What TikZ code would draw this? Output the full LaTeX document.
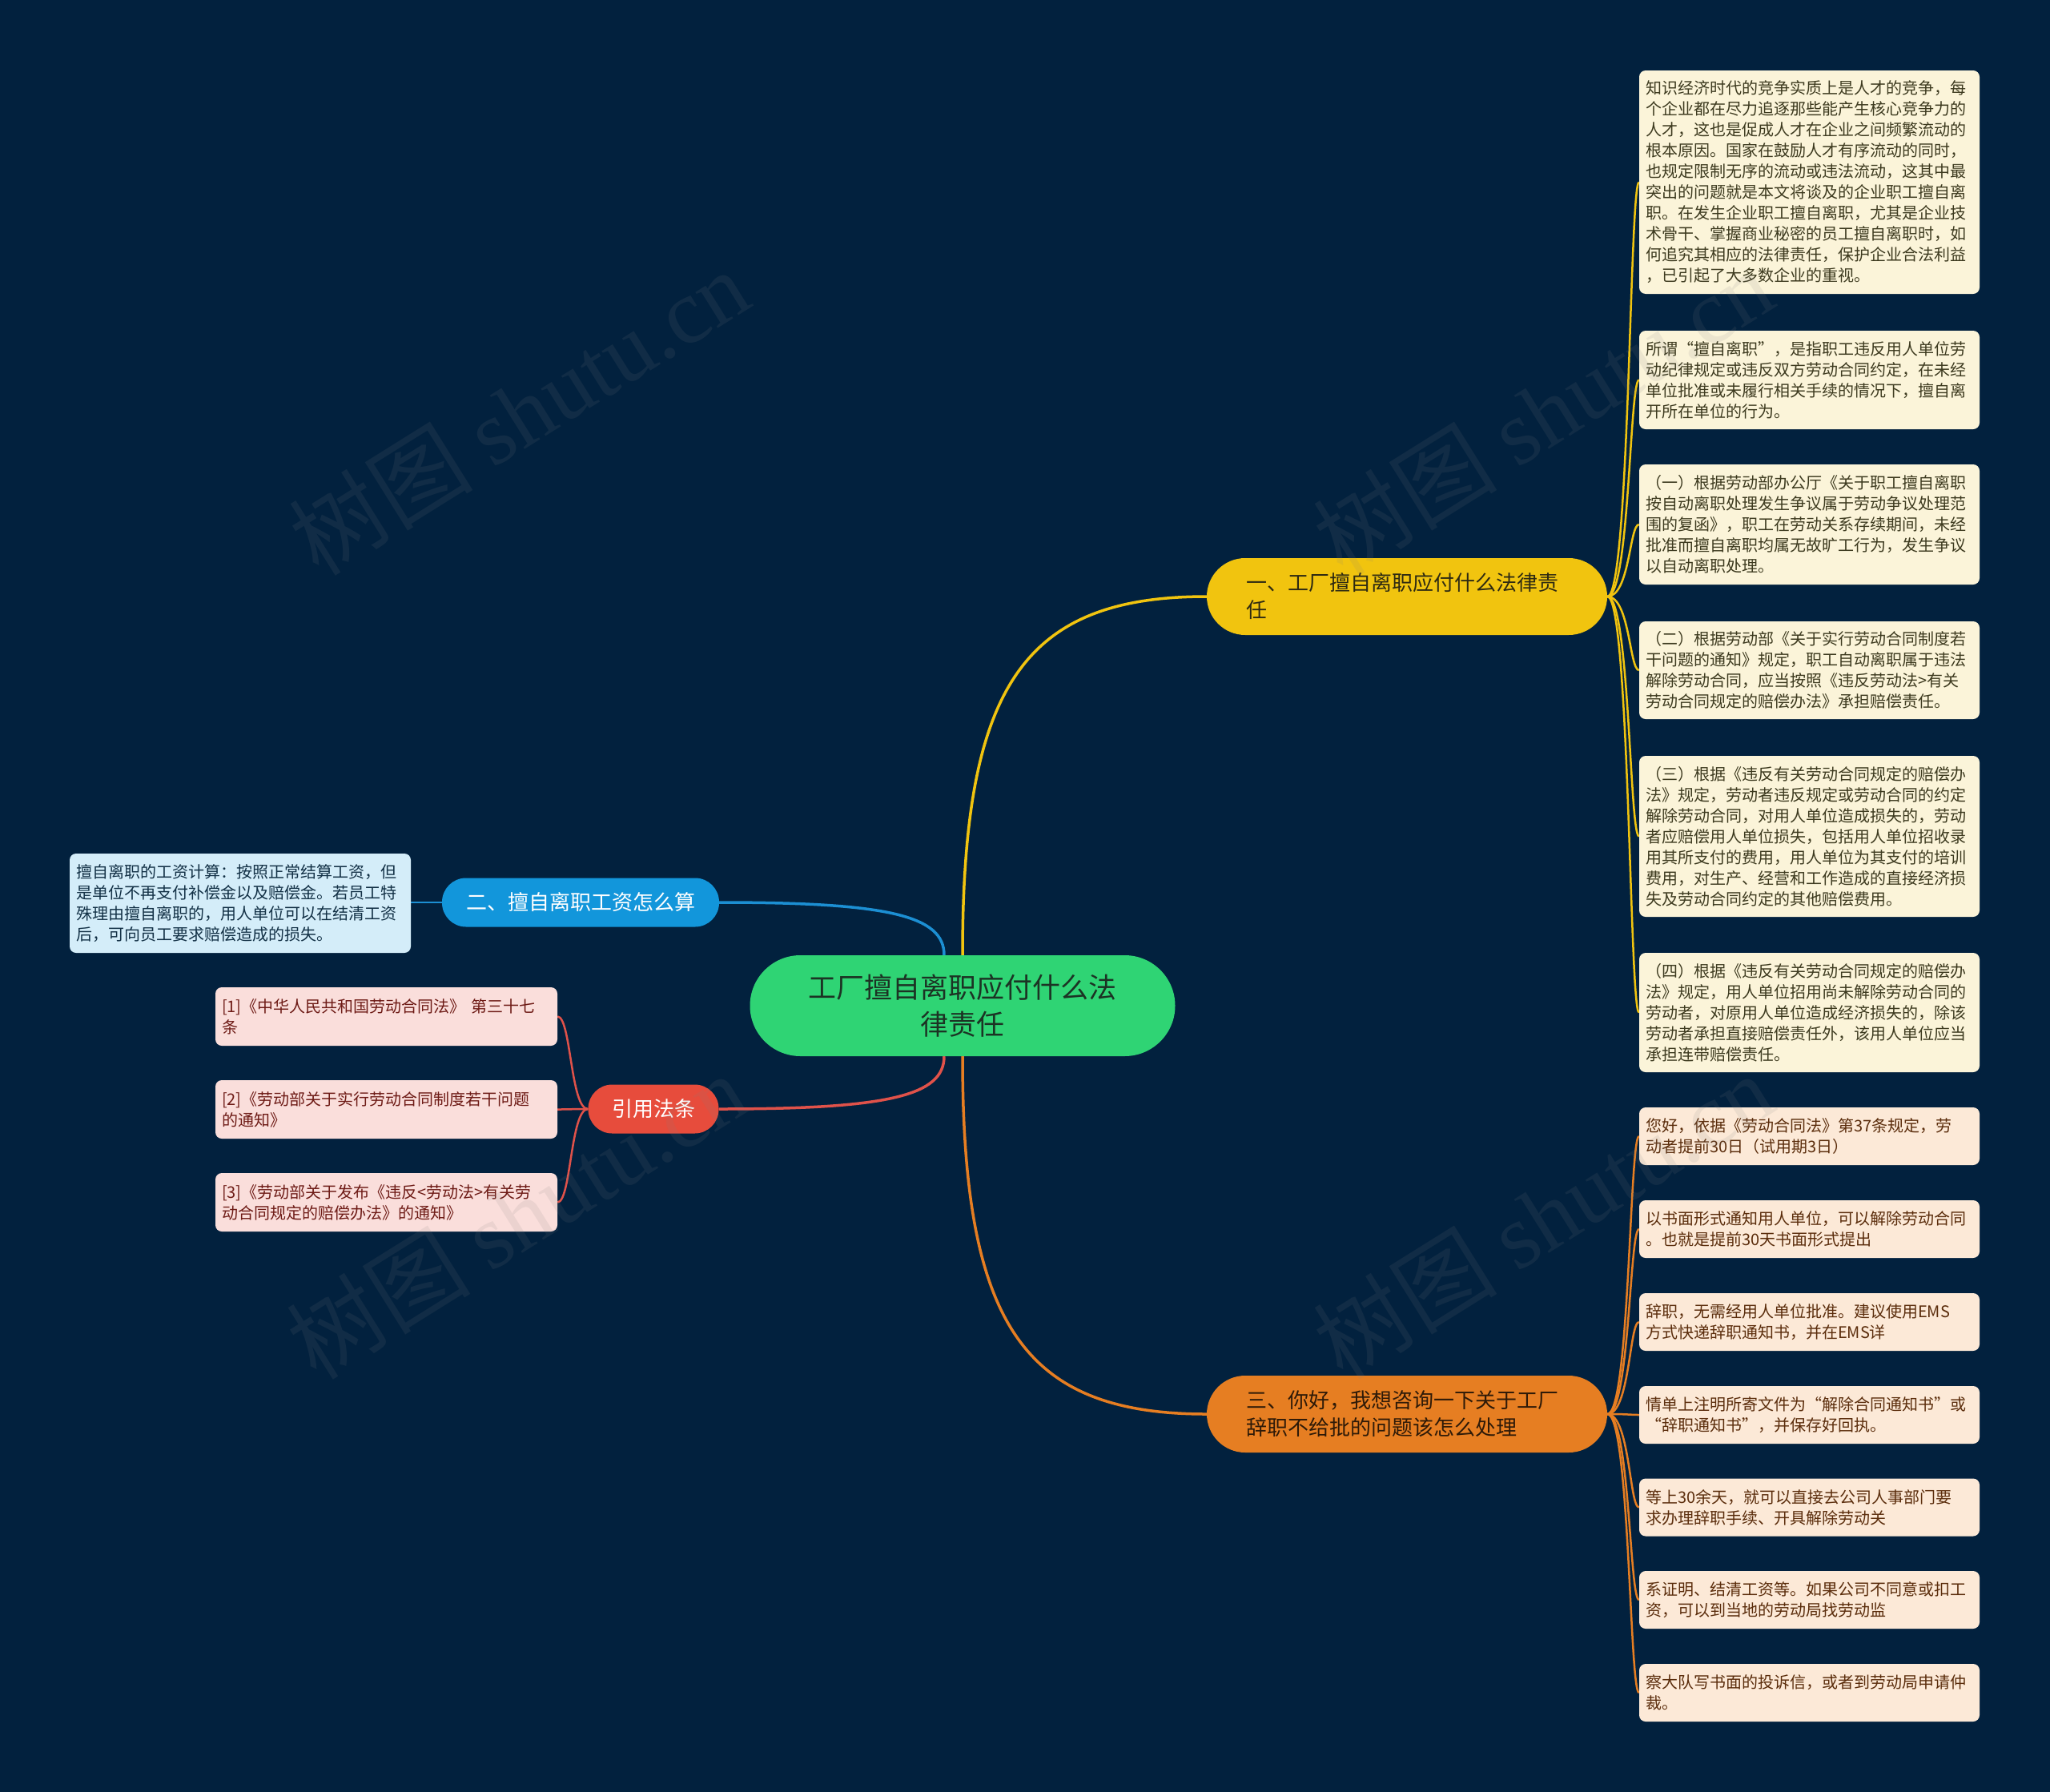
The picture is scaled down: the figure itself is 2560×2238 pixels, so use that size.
\documentclass[tikz,border=0pt]{standalone}
\usepackage{fontspec}
\setmainfont{Noto Sans CJK SC}
\newfontfamily\wmserif{Liberation Serif}
\usetikzlibrary{calc}
\definecolor{bgc}{HTML}{02213E}
\definecolor{rootc}{HTML}{2FD474}
\definecolor{roottxt}{HTML}{1C3324}
\definecolor{ylw}{HTML}{F1C40F}
\definecolor{ytxt}{HTML}{2E2A12}
\definecolor{org}{HTML}{E67E22}
\definecolor{otxt}{HTML}{2E1A08}
\definecolor{blu}{HTML}{1296DB}
\definecolor{bluline}{HTML}{1C8FD3}
\definecolor{rd}{HTML}{E74C3C}
\definecolor{redline}{HTML}{E0524A}
\definecolor{yleaf}{HTML}{FBF4D9}
\definecolor{yleaftxt}{HTML}{3D3A1F}
\definecolor{oleaf}{HTML}{FCE9D7}
\definecolor{oleaftxt}{HTML}{5B2D0C}
\definecolor{bleaf}{HTML}{D4EDF9}
\definecolor{bleaftxt}{HTML}{123045}
\definecolor{rleaf}{HTML}{FADEDB}
\definecolor{rleaftxt}{HTML}{6E1B16}
\pgfdeclarelayer{bglayer}
\pgfsetlayers{bglayer,main}
\begin{document}
\begin{tikzpicture}[x=1pt,y=-1pt,
  rootnode/.style={fill=rootc, text=roottxt, rounded corners=63pt, minimum width=531pt, minimum height=126pt, align=center, inner sep=0pt, font=\fontsize{35}{46}\selectfont},
  branchY/.style={fill=ylw, text=ytxt, rounded corners=48pt, minimum height=96pt, text width=402pt, inner xsep=49pt, inner ysep=0pt, align=left, font=\fontsize{26}{34}\selectfont},
  branchO/.style={branchY, fill=org, text=otxt},
  branchB/.style={fill=blu, text=white, rounded corners=30pt, minimum width=346pt, minimum height=61pt, inner sep=0pt, font=\fontsize{26}{34}\selectfont},
  branchR/.style={fill=rd, text=white, rounded corners=30pt, minimum width=163pt, minimum height=61pt, inner sep=0pt, font=\fontsize{26}{34}\selectfont},
  leaf/.style={rounded corners=8pt, inner xsep=8pt, inner ysep=0pt, align=left, font=\fontsize{20}{26}\selectfont},
  leafY/.style={leaf, fill=yleaf, text=yleaftxt, text width=409pt},
  leafO/.style={leaf, fill=oleaf, text=oleaftxt, text width=409pt},
  leafB/.style={leaf, fill=bleaf, text=bleaftxt, text width=410pt},
  leafR/.style={leaf, fill=rleaf, text=rleaftxt, text width=411pt},
  mainline/.style={line width=3.5pt},
  subline/.style={line width=2.5pt},
  wm/.style={text=gray, text opacity=0.12, rotate=32, inner sep=0pt, font=\fontsize{115}{115}\selectfont}
]
\begin{pgfonlayer}{bglayer}
\fill[bgc] (0,0) rectangle (2560,2238);
\end{pgfonlayer}
\useasboundingbox (0,0) rectangle (2560,2238);

% main nodes
\node[rootnode] (c) at (1202,1256) {工厂擅自离职应付什么法\\律责任};
\node[branchY] (y1) at (1757,745) {一、工厂擅自离职应付什么法律责\\任};
\node[branchO] (o1) at (1757,1766) {三、你好，我想咨询一下关于工厂\\辞职不给批的问题该怎么处理};
\node[branchB] (b1) at (725,1127) {二、擅自离职工资怎么算};
\node[branchR] (r1) at (816,1385) {引用法条};

% yellow leaves
\node[leafY, minimum height=279pt] (yd1) at (2259.5,227.5) {知识经济时代的竞争实质上是人才的竞争，每\\个企业都在尽力追逐那些能产生核心竞争力的\\人才，这也是促成人才在企业之间频繁流动的\\根本原因。国家在鼓励人才有序流动的同时，\\也规定限制无序的流动或违法流动，这其中最\\突出的问题就是本文将谈及的企业职工擅自离\\职。在发生企业职工擅自离职，尤其是企业技\\术骨干、掌握商业秘密的员工擅自离职时，如\\何追究其相应的法律责任，保护企业合法利益\\，已引起了大多数企业的重视。};
\node[leafY, minimum height=123pt] (yd2) at (2259.5,474.5) {所谓“擅自离职”，是指职工违反用人单位劳\\动纪律规定或违反双方劳动合同约定，在未经\\单位批准或未履行相关手续的情况下，擅自离\\开所在单位的行为。};
\node[leafY, minimum height=150pt] (yd3) at (2259.5,655) {（一）根据劳动部办公厅《关于职工擅自离职\\按自动离职处理发生争议属于劳动争议处理范\\围的复函》，职工在劳动关系存续期间，未经\\批准而擅自离职均属无故旷工行为，发生争议\\以自动离职处理。};
\node[leafY, minimum height=122pt] (yd4) at (2259.5,837) {（二）根据劳动部《关于实行劳动合同制度若\\干问题的通知》规定，职工自动离职属于违法\\解除劳动合同，应当按照《违反劳动法>有关\\劳动合同规定的赔偿办法》承担赔偿责任。};
\node[leafY, minimum height=201pt] (yd5) at (2259.5,1044.5) {（三）根据《违反有关劳动合同规定的赔偿办\\法》规定，劳动者违反规定或劳动合同的约定\\解除劳动合同，对用人单位造成损失的，劳动\\者应赔偿用人单位损失，包括用人单位招收录\\用其所支付的费用，用人单位为其支付的培训\\费用，对生产、经营和工作造成的直接经济损\\失及劳动合同约定的其他赔偿费用。};
\node[leafY, minimum height=149pt] (yd6) at (2259.5,1264.5) {（四）根据《违反有关劳动合同规定的赔偿办\\法》规定，用人单位招用尚未解除劳动合同的\\劳动者，对原用人单位造成经济损失的，除该\\劳动者承担直接赔偿责任外，该用人单位应当\\承担连带赔偿责任。};

% orange leaves
\node[leafO, minimum height=72pt] (od1) at (2259.5,1419) {您好，依据《劳动合同法》第37条规定，劳\\动者提前30日（试用期3日）};
\node[leafO, minimum height=72pt] (od2) at (2259.5,1535) {以书面形式通知用人单位，可以解除劳动合同\\。也就是提前30天书面形式提出};
\node[leafO, minimum height=72pt] (od3) at (2259.5,1651) {辞职，无需经用人单位批准。建议使用EMS\\方式快递辞职通知书，并在EMS详};
\node[leafO, minimum height=72pt] (od4) at (2259.5,1767) {情单上注明所寄文件为“解除合同通知书”或\\“辞职通知书”，并保存好回执。};
\node[leafO, minimum height=72pt] (od5) at (2259.5,1882.5) {等上30余天，就可以直接去公司人事部门要\\求办理辞职手续、开具解除劳动关};
\node[leafO, minimum height=72pt] (od6) at (2259.5,1998) {系证明、结清工资等。如果公司不同意或扣工\\资，可以到当地的劳动局找劳动监};
\node[leafO, minimum height=72pt] (od7) at (2259.5,2114) {察大队写书面的投诉信，或者到劳动局申请仲\\裁。};

% blue leaf
\node[leafB, minimum height=124pt] (bd) at (300,1128) {擅自离职的工资计算：按照正常结算工资，但\\是单位不再支付补偿金以及赔偿金。若员工特\\殊理由擅自离职的，用人单位可以在结清工资\\后，可向员工要求赔偿造成的损失。};

% red leaves
\node[leafR, minimum height=73pt] (rd1) at (482.5,1269.5) {[1]《中华人民共和国劳动合同法》 第三十七\\条};
\node[leafR, minimum height=73pt] (rd2) at (482.5,1385.5) {[2]《劳动部关于实行劳动合同制度若干问题\\的通知》};
\node[leafR, minimum height=73pt] (rd3) at (482.5,1501.5) {[3]《劳动部关于发布《违反<劳动法>有关劳\\动合同规定的赔偿办法》的通知》};

% connectors
\begin{pgfonlayer}{bglayer}
\draw[ylw, mainline] (c.north) .. controls ($(c.north)!0.75!(c.north |- y1.west)$) and ($(y1.west)!0.75!(c.north |- y1.west)$) .. (y1.west);
\draw[org, mainline] (c.south) .. controls ($(c.south)!0.75!(c.south |- o1.west)$) and ($(o1.west)!0.75!(c.south |- o1.west)$) .. (o1.west);
\draw[bluline, mainline] (c.110) .. controls ($(c.110)!0.75!(c.110 |- b1.east)$) and ($(b1.east)!0.75!(c.110 |- b1.east)$) .. (b1.east);
\draw[redline, mainline] (c.250) .. controls ($(c.250)!0.75!(c.250 |- r1.east)$) and ($(r1.east)!0.75!(c.250 |- r1.east)$) .. (r1.east);
\foreach \n in {yd1,yd2,yd3,yd4,yd5,yd6}
  \draw[ylw, subline] (y1.east) .. controls ($(y1.east)+(28,0)$) and ($(\n.west)+(-12,0)$) .. (\n.west);
\foreach \n in {od1,od2,od3,od4,od5,od6,od7}
  \draw[org, subline] (o1.east) .. controls ($(o1.east)+(28,0)$) and ($(\n.west)+(-12,0)$) .. (\n.west);
\foreach \n in {rd1,rd2,rd3}
  \draw[redline, subline] (r1.west) .. controls ($(r1.west)+(-22,0)$) and ($(\n.east)+(17,0)$) .. (\n.east);
\draw[bluline, subline] (b1.west) -- (b1.west -| bd.east);
\end{pgfonlayer}

% watermarks
\node[wm] (w1) at (648,514) {树图 {\wmserif shutu.cn}};
\node[wm] (w2) at (1927,514) {树图 {\wmserif shutu.cn}};
\node[wm] (w3) at (645,1518) {树图 {\wmserif shutu.cn}};
\node[wm] (w4) at (1927,1518) {树图 {\wmserif shutu.cn}};
\end{tikzpicture}
\end{document}
